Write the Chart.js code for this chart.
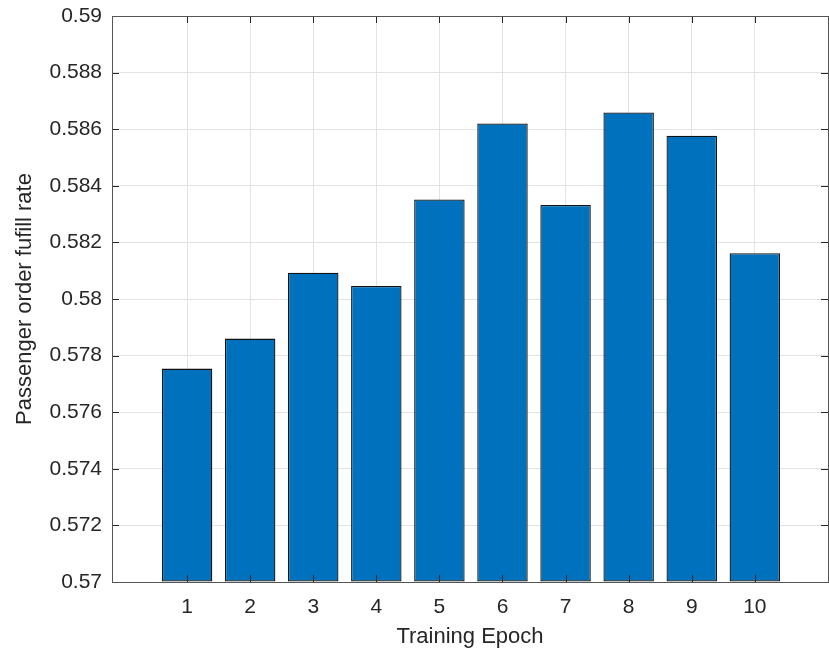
<!DOCTYPE html>
<html>
<head>
<meta charset="utf-8">
<script src="https://cdn.jsdelivr.net/npm/chart.js@4.4.1/dist/chart.umd.min.js"></script>
<style>
  html, body { margin: 0; padding: 0; background: #fff; }
  #wrap { width: 829px; height: 653px; }
</style>
</head>
<body>
<div id="wrap"><canvas id="chart" width="829" height="653"></canvas></div>
<script>
// Data
const epochs = [1, 2, 3, 4, 5, 6, 7, 8, 9, 10];
const fulfillRate = [0.57754, 0.57860, 0.58093, 0.58046, 0.58352, 0.58620, 0.58332, 0.58659, 0.58577, 0.58162];
const yTicks = [0.57, 0.572, 0.574, 0.576, 0.578, 0.58, 0.582, 0.584, 0.586, 0.588, 0.59];
const yMin = 0.57, yMax = 0.59;
const xMin = -0.19, xMax = 11.16;

const axisColor = '#262626';
const gridColor = '#e3e3e3';
const fontFamily = '"Liberation Sans", Arial, Helvetica, sans-serif';

// MATLAB style box with inward tick marks
const boxPlugin = {
  id: 'box',
  afterDatasetsDraw(chart) {
    const { ctx, chartArea: a, scales } = chart;
    const len = 7;
    ctx.save();
    ctx.strokeStyle = axisColor;
    ctx.lineWidth = 1;
    ctx.beginPath();
    scales.x.ticks.forEach(t => {
      const px = Math.round(scales.x.getPixelForValue(t.value)) + 0.5;
      ctx.moveTo(px, a.bottom); ctx.lineTo(px, a.bottom - len);
      ctx.moveTo(px, a.top); ctx.lineTo(px, a.top + len);
    });
    scales.y.ticks.forEach(t => {
      const py = Math.round(scales.y.getPixelForValue(t.value)) + 0.5;
      ctx.moveTo(a.left, py); ctx.lineTo(a.left + len, py);
      ctx.moveTo(a.right, py); ctx.lineTo(a.right - len, py);
    });
    ctx.stroke();
    ctx.strokeStyle = '#555';
    ctx.strokeRect(Math.round(a.left) + 0.5, Math.round(a.top) + 0.5,
      Math.round(a.right - a.left), Math.round(a.bottom - a.top));
    ctx.restore();
  }
};

const ctx = document.getElementById('chart').getContext('2d');
new Chart(ctx, {
  type: 'bar',
  data: {
    datasets: [{
      data: epochs.map((e, i) => ({ x: e, y: fulfillRate[i] })),
      backgroundColor: '#0072bd',
      borderColor: '#111',
      borderWidth: 1.3,
      borderSkipped: false,
      barPercentage: 0.8,
      categoryPercentage: 1.0,
      base: yMin
    }]
  },
  options: {
    responsive: false,
    animation: false,
    layout: { padding: { top: 16, right: 1, left: 0, bottom: 0 } },
    plugins: { legend: { display: false }, tooltip: { enabled: false } },
    scales: {
      x: {
        type: 'linear',
        offset: false,
        min: xMin,
        max: xMax,
        afterBuildTicks: s => { s.ticks = epochs.map(v => ({ value: v })); },
        afterFit: s => { s.height = 71; s.paddingLeft = 0; s.paddingRight = 0; },
        grid: { color: gridColor, drawTicks: false, offset: false },
        border: { color: '#555' },
        ticks: {
          padding: 13,
          color: axisColor,
          font: { family: fontFamily, size: 21 },
          callback: v => String(v)
        },
        title: {
          display: true,
          text: 'Training Epoch',
          color: axisColor,
          font: { family: fontFamily, size: 22 },
          padding: { top: 0, bottom: 3 }
        }
      },
      y: {
        min: yMin,
        max: yMax,
        afterBuildTicks: s => { s.ticks = yTicks.map(v => ({ value: v })); },
        afterFit: s => { s.width = 112; s.paddingTop = 0; s.paddingBottom = 0; },
        grid: { color: gridColor, drawTicks: false },
        border: { color: '#555' },
        ticks: {
          padding: 10,
          color: axisColor,
          font: { family: fontFamily, size: 21 },
          callback: v => String(v)
        },
        title: {
          display: true,
          text: 'Passenger order fufill rate',
          color: axisColor,
          font: { family: fontFamily, size: 22 },
          padding: { top: 12, bottom: 0 }
        }
      }
    }
  },
  plugins: [boxPlugin]
});
</script>
</body>
</html>
